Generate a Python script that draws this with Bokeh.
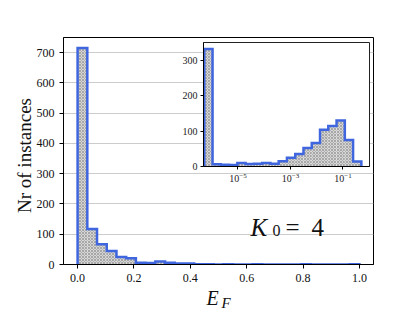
import numpy as np
from bokeh.plotting import figure
from bokeh.models import (Label, FixedTicker, LogTickFormatter, ColumnDataSource,
                          CustomJSTickFormatter, Range1d)
from bokeh.embed import file_html
from bokeh.resources import INLINE

# ---- data ----
main_bins = 29
main_range = (0.0, 1.0)
main_counts = [715, 117, 67, 45, 25, 21, 6, 5, 10, 6, 3, 3, 1, 1, 0, 1, 0, 0, 1, 0,
               0, 0, 0, 1, 0, 0, 0, 0, 1]
main_xticks = [0.0, 0.2, 0.4, 0.6, 0.8, 1.0]
main_yticks = [0, 100, 200, 300, 400, 500, 600, 700]

inset_log_lo = -6.28
inset_log_hi = -0.30
inset_counts = [332, 6, 5, 4, 10, 7, 8, 10, 8, 15, 25, 35, 52, 66, 104, 114, 130, 75, 14]
inset_xticks = [1e-5, 1e-3, 1e-1]
inset_yticks = [0, 100, 200, 300]

FONT = "Liberation Serif"
BLUE = "#3f66de"
W, H = 415, 311

def step_outline(edges, counts):
    xs = [edges[0]]
    ys = [0]
    for i, c in enumerate(counts):
        xs += [edges[i], edges[i + 1]]
        ys += [c, c]
    xs.append(edges[-1])
    ys.append(0)
    return xs, ys

# ---- main figure ----
main_edges = np.linspace(main_range[0], main_range[1], main_bins + 1)
p = figure(width=W, height=H, x_range=(-0.05, 1.05), y_range=(0, 750),
           output_backend="svg", toolbar_location=None,
           min_border_left=63, min_border_right=42, min_border_top=37, min_border_bottom=47)
p.outline_line_color = "black"
p.outline_line_width = 1
p.xgrid.visible = False
p.ygrid.grid_line_color = "#cccccc"
p.ygrid.grid_line_width = 1
p.xaxis.ticker = FixedTicker(ticks=main_xticks)
p.yaxis.ticker = FixedTicker(ticks=main_yticks)
for ax in (p.xaxis[0], p.yaxis[0]):
    ax.major_label_text_font = FONT
    ax.major_label_text_font_size = "12px"
    ax.major_label_text_color = "#111111"
    ax.minor_tick_line_color = None
    ax.major_tick_in = 0
    ax.major_tick_out = 4
    ax.axis_line_color = "black"
p.xaxis.formatter = CustomJSTickFormatter(code="return tick.toFixed(1);")

src = ColumnDataSource(dict(left=main_edges[:-1], right=main_edges[1:],
                            top=main_counts, bottom=[0] * len(main_counts)))
p.quad(left="left", right="right", top="top", bottom="bottom", source=src,
       fill_color="#d6d6d6", line_color=None,
       hatch_pattern="diagonal_cross", hatch_color="#9a9a9a", hatch_scale=3, hatch_weight=0.8)
mx, my = step_outline(main_edges, main_counts)
p.line(mx, my, line_color=BLUE, line_width=2.5, line_join="miter")

# ---- inset ----
inset_edges = np.logspace(inset_log_lo, inset_log_hi, len(inset_counts) + 1)
pi = figure(width=200, height=148, x_axis_type="log",
            x_range=(10 ** -6.31, 10 ** 0.01), y_range=(0, 350),
            output_backend="svg", toolbar_location=None, title=None,
            min_border_left=32, min_border_right=2, min_border_top=2, min_border_bottom=22)
pi.border_fill_color = None
pi.background_fill_color = "white"
pi.outline_line_color = "#222222"
pi.outline_line_width = 1
pi.grid.visible = False
pi.xaxis.ticker = FixedTicker(ticks=inset_xticks, minor_ticks=[])
pi.yaxis.ticker = FixedTicker(ticks=inset_yticks)
for ax in (pi.xaxis[0], pi.yaxis[0]):
    ax.major_label_text_font = FONT
    ax.major_label_text_font_size = "10px"
    ax.major_label_text_color = "#222222"
    ax.minor_tick_line_color = None
    ax.major_tick_in = 0
    ax.major_tick_out = 3
    ax.major_label_standoff = 3
pi.xaxis.formatter = LogTickFormatter()

isrc = ColumnDataSource(dict(left=inset_edges[:-1], right=inset_edges[1:],
                             top=inset_counts, bottom=[0] * len(inset_counts)))
pi.quad(left="left", right="right", top="top", bottom="bottom", source=isrc,
        fill_color="#d6d6d6", line_color=None,
        hatch_pattern="diagonal_cross", hatch_color="#9a9a9a", hatch_scale=3, hatch_weight=0.8)
ix, iy = step_outline(inset_edges, inset_counts)
pi.line(ix, iy, line_color=BLUE, line_width=2.5, line_join="miter")
pi.styles = {"position": "absolute", "left": "171px", "top": "40px"}

# ---- text overlay (page pixel coordinates, y downward) ----
ov = figure(width=W, height=H, x_range=Range1d(0, W), y_range=Range1d(H, 0),
            output_backend="svg", toolbar_location=None, title=None,
            x_axis_location=None, y_axis_location=None,
            min_border=0, min_border_left=0, min_border_right=0,
            min_border_top=0, min_border_bottom=0)
ov.border_fill_color = None
ov.background_fill_color = None
ov.outline_line_color = None
ov.grid.visible = False
ov.styles = {"position": "absolute", "left": "0px", "top": "0px"}

TXT = "#111111"
ov.add_layout(Label(x=24, y=155, text="Nr of instances", angle=np.pi / 2,
                    text_align="center", text_baseline="middle",
                    text_font=FONT, text_font_size="19px", text_color=TXT))
ov.add_layout(Label(x=206, y=297, text="E", text_font=FONT, text_font_style="italic",
                    text_font_size="20px", text_baseline="alphabetic", text_color=TXT))
ov.add_layout(Label(x=221, y=302, text="F", text_font=FONT, text_font_style="italic",
                    text_font_size="15px", text_baseline="alphabetic", text_color=TXT))
ov.add_layout(Label(x=250, y=226.5, text="K", text_font=FONT, text_font_style="italic",
                    text_font_size="25px", text_baseline="alphabetic", text_color=TXT))
ov.add_layout(Label(x=272, y=229.7, text="0", text_font=FONT,
                    text_font_size="16px", text_baseline="alphabetic", text_color=TXT))
ov.add_layout(Label(x=285, y=226.5, text="=", text_font=FONT,
                    text_font_size="25px", text_baseline="alphabetic", text_color=TXT))
ov.add_layout(Label(x=311, y=226.5, text="4", text_font=FONT,
                    text_font_size="25px", text_baseline="alphabetic", text_color=TXT))

open("out.html", "w").write(file_html([p, pi, ov], INLINE))
